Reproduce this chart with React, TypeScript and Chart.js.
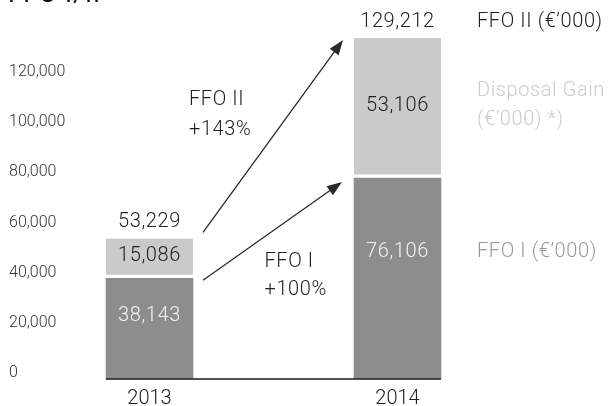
import React, { useEffect, useRef } from 'react';
import { Chart, registerables } from 'chart.js';

Chart.register(...registerables);

const years = ['2013', '2014'];
const ffoI = [38143, 76106];
const disposalGain = [15086, 53106];
const ffoII = [53229, 129212];
const yTickValues = [0, 20000, 40000, 60000, 80000, 100000, 120000];
const legendFfoII = 'FFO II (€’000)';
const legendDisposal = ['Disposal Gain', '(€’000) *)'];
const legendFfoI = 'FFO I (€’000)';
const headTitle = 'FFO I/II';
const growthNames = ['FFO I', 'FFO II'];

const FONT = 'Roboto';
const DARK = '#8c8d8c';
const LIGHT = '#c9cac9';
const fmt = (v: number) => Math.round(v).toLocaleString('en-US');

function text(ctx: CanvasRenderingContext2D, s: string, x: number, y: number, color: string, size: number, align: CanvasTextAlign = 'center') {
  ctx.fillStyle = color;
  ctx.font = `300 ${size}px ${FONT}`;
  ctx.textAlign = align;
  ctx.textBaseline = 'middle';
  (ctx as any).letterSpacing = '0.6px';
  ctx.fillText(s, x, y);
}

function arrow(ctx: CanvasRenderingContext2D, x1: number, y1: number, x2: number, y2: number) {
  const ang = Math.atan2(y2 - y1, x2 - x1);
  const hl = 15, hw = 5.5;
  const bx = x2 - hl * Math.cos(ang), by = y2 - hl * Math.sin(ang);
  ctx.beginPath();
  ctx.moveTo(x1, y1);
  ctx.lineTo(bx + 2 * Math.cos(ang), by + 2 * Math.sin(ang));
  ctx.stroke();
  ctx.beginPath();
  ctx.moveTo(x2, y2);
  ctx.lineTo(bx + hw * Math.sin(ang), by - hw * Math.cos(ang));
  ctx.lineTo(bx - hw * Math.sin(ang), by + hw * Math.cos(ang));
  ctx.closePath();
  ctx.fill();
}

const annotPlugin = {
  id: 'annot',
  afterDatasetsDraw(chart: any) {
    const ctx: CanvasRenderingContext2D = chart.ctx;
    const d = chart.getDatasetMeta(0).data;
    const l = chart.getDatasetMeta(1).data;
    const yZero = chart.scales.y.getPixelForValue(0);
    ctx.save();
    // baseline
    const left = d[0].x - d[0].width / 2;
    const right = d[1].x + d[1].width / 2;
    ctx.strokeStyle = '#1a1a1a';
    ctx.lineWidth = 1.6;
    ctx.beginPath();
    ctx.moveTo(left, yZero);
    ctx.lineTo(right, yZero);
    ctx.stroke();

    const darkLabelY: number[] = [];
    const lightLabelY: number[] = [];
    const totalLabelY: number[] = [];
    for (let i = 0; i < years.length; i++) {
      const de = d[i], le = l[i];
      const dy = de.y + 0.37 * (de.base - de.y);
      const ly = (le.y + le.base - 4) / 2;
      const ty = le.y - 16;
      darkLabelY.push(dy); lightLabelY.push(ly); totalLabelY.push(ty);
      text(ctx, fmt(ffoI[i]), de.x, dy, '#f2f2f2', 20);
      text(ctx, fmt(disposalGain[i]), le.x, ly, '#222', 20);
      text(ctx, fmt(ffoII[i]), le.x, ty, '#222', 20);
    }

    // arrows
    ctx.strokeStyle = '#2a2a2a';
    ctx.fillStyle = '#2a2a2a';
    ctx.lineWidth = 1.3;
    const b1r = d[0].x + d[0].width / 2;
    const b2l = d[1].x - d[1].width / 2;
    const lo = [b1r + 10, d[0].y + 2, b2l - 12, d[1].y + 4];
    const up = [b1r + 10, l[0].y - 6, b2l - 11, l[1].y + 2];
    arrow(ctx, lo[0], lo[1], lo[2], lo[3]);
    arrow(ctx, up[0], up[1], up[2], up[3]);

    const gI = Math.round((ffoI[1] / ffoI[0] - 1) * 100);
    const gII = Math.round((ffoII[1] / ffoII[0] - 1) * 100);
    const loMid = [(lo[0] + lo[2]) / 2, (lo[1] + lo[3]) / 2];
    const upMid = [(up[0] + up[2]) / 2, (up[1] + up[3]) / 2];
    text(ctx, growthNames[1], upMid[0] - 84, upMid[1] - 36, '#222', 20, 'left');
    text(ctx, `+${gII}%`, upMid[0] - 84, upMid[1] - 6, '#222', 20, 'left');
    text(ctx, growthNames[0], loMid[0] - 8, loMid[1] + 31, '#222', 20, 'left');
    text(ctx, `+${gI}%`, loMid[0] - 8, loMid[1] + 59, '#222', 20, 'left');

    // right legend
    const lx = right + 36;
    text(ctx, legendFfoII, lx, totalLabelY[1], '#222', 20, 'left');
    text(ctx, legendDisposal[0], lx, lightLabelY[1] - 14.5, '#cccccc', 20, 'left');
    text(ctx, legendDisposal[1], lx, lightLabelY[1] + 14.5, '#cccccc', 20, 'left');
    text(ctx, legendFfoI, lx, darkLabelY[1], '#999999', 20, 'left');

    // cut-off heading at the very top
    ctx.fillStyle = '#111';
    ctx.font = `400 26px ${FONT}`;
    ctx.textAlign = 'left';
    ctx.textBaseline = 'alphabetic';
    (ctx as any).letterSpacing = '1px';
    ctx.fillText(headTitle, 8, 2);
    ctx.restore();
  },
};

export default function App() {
  const ref = useRef<HTMLCanvasElement | null>(null);
  useEffect(() => {
    document.body.style.margin = '0';
    const canvas = ref.current!;
    const chart = new Chart(canvas, {
      type: 'bar',
      data: {
        labels: years,
        datasets: [
          {
            label: 'FFO I',
            data: ffoI,
            backgroundColor: DARK,
            borderWidth: 0,
            barThickness: 87,
            yAxisID: 'y',
          },
          {
            label: 'Disposal Gain',
            data: disposalGain,
            backgroundColor: LIGHT,
            borderColor: '#ffffff',
            borderWidth: { top: 0, left: 0, right: 0, bottom: 4 },
            borderSkipped: false,
            barThickness: 87,
            yAxisID: 'y',
          },
        ],
      },
      options: {
        responsive: false,
        animation: false,
        layout: { padding: { top: 9.4, left: 9, right: 91.5, bottom: 0 } },
        plugins: { legend: { display: false }, tooltip: { enabled: false } },
        scales: {
          x: {
            stacked: true,
            grid: { display: false, drawTicks: false },
            border: { display: false },
            ticks: { padding: 8, color: '#222', font: { family: FONT, size: 20, weight: '300' } },
            afterFit: (s: any) => { s.height = 27; },
          },
          y: {
            stacked: true,
            display: false,
            min: 0,
            max: 140000,
          },
          yt: {
            position: 'left',
            min: -2392,
            max: 144957,
            grid: { display: false, drawTicks: false },
            border: { display: false },
            afterBuildTicks: (s: any) => { s.ticks = yTickValues.map((v) => ({ value: v })); },
            afterFit: (s: any) => { s.width = 16.5; },
            ticks: {
              mirror: true,
              crossAlign: 'near',
              padding: -16.5,
              autoSkip: false,
              color: '#333',
              font: { family: FONT, size: 16, weight: '300' },
              callback: (v: any) => fmt(Number(v)),
            },
          },
        },
      } as any,
      plugins: [annotPlugin],
    });
    return () => chart.destroy();
  }, []);
  return <canvas ref={ref} width={613} height={406} style={{ display: 'block' }} />;
}
